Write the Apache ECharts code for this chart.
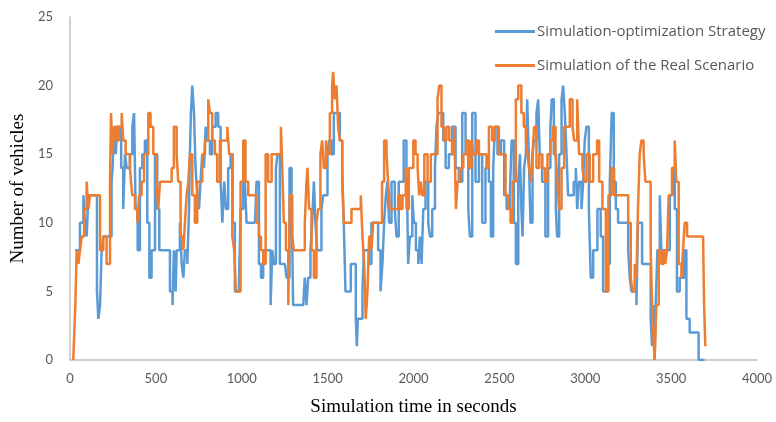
<!DOCTYPE html>
<html>
<head>
<meta charset="utf-8">
<script src="https://cdn.jsdelivr.net/npm/echarts@6/dist/echarts.min.js"></script>
<style>
html,body{margin:0;padding:0;background:#fff;}
#chart{width:776px;height:422px;}
</style>
</head>
<body>
<div id="chart"></div>
<script>
// ---- data (time in seconds, number of vehicles) ----
const seriesNames = ['Simulation-optimization Strategy', 'Simulation of the Real Scenario'];
const xTicks = [0, 500, 1000, 1500, 2000, 2500, 3000, 3500, 4000];
const yTicks = [0, 5, 10, 15, 20, 25];

const optTime = [30,58,78,87,97,107,157,165,175,184,194,242,248,256,266,276,298,310,320,330,349,363,373,382,394,407,421,436,450,462,475,495,508,520,562,582,597,605,615,621,640,650,660,669,683,693,698,704,712,722,731,741,751,760,770,780,790,799,815,828,848,863,877,887,898,908,921,935,947,960,983,993,1009,1018,1028,1077,1086,1100,1112,1125,1154,1168,1178,1187,1199,1208,1222,1251,1261,1278,1290,1299,1358,1367,1377,1387,1400,1410,1420,1429,1439,1464,1474,1499,1509,1523,1536,1571,1585,1594,1604,1635,1664,1670,1676,1703,1711,1740,1755,1794,1808,1819,1829,1839,1848,1858,1872,1891,1901,1914,1943,1959,1964,1969,1979,1993,2002,2014,2028,2037,2047,2057,2070,2086,2096,2109,2125,2134,2144,2173,2187,2206,2225,2245,2264,2284,2303,2319,2328,2342,2361,2381,2400,2419,2439,2451,2464,2474,2489,2509,2528,2542,2561,2571,2584,2596,2610,2620,2628,2635,2644,2654,2662,2671,2681,2693,2702,2716,2726,2735,2749,2768,2784,2797,2805,2817,2829,2836,2848,2862,2871,2881,2891,2900,2933,2945,2953,2964,2978,2988,2997,3007,3021,3032,3046,3071,3090,3104,3129,3143,3154,3166,3178,3191,3250,3259,3269,3298,3307,3331,3381,3389,3399,3404,3410,3420,3434,3443,3492,3507,3521,3534,3550,3575,3589,3608,3660,3695];
const optCount = [8,10,12,10,9,12,5,3,4,8,9,13,14,17,15,17,14,11,15,14,15,17,18,11,8,14,15,16,10,6,8,15,11,8,8,5,4,8,5,8,10,7,6,8,7,11,15,18,20,18,14,12,11,13,15,14,17,16,15,17,18,17,13,10,13,11,14,15,10,5,5,11,16,13,10,10,13,7,6,8,8,4,8,7,14,15,7,7,6,14,12,4,4,6,4,6,8,10,13,10,8,11,12,15,16,15,18,16,13,10,5,7,3,1,3,5,8,7,10,8,5,7,10,12,13,10,13,11,9,13,16,14,11,7,9,12,10,8,7,9,7,11,13,10,9,11,14,17,18,16,14,15,17,14,13,18,15,11,9,18,13,15,10,14,13,9,14,17,15,16,12,11,12,16,10,7,13,15,11,9,14,15,19,15,10,15,16,18,19,15,13,9,14,17,19,15,11,9,15,19,20,18,15,12,13,14,11,13,11,13,16,17,11,6,8,11,9,5,7,13,18,13,11,10,8,6,5,4,10,7,3,1,4,0,4,8,12,8,12,14,11,5,6,8,3,2,0,0];

const realTime = [19,25,31,39,49,58,68,82,97,107,116,175,194,213,233,239,248,258,272,285,301,310,324,349,355,363,378,392,402,417,431,456,469,485,504,514,524,592,605,621,630,644,660,669,679,689,698,712,727,741,770,786,805,815,828,844,857,873,916,927,945,956,966,993,1009,1022,1038,1086,1100,1112,1125,1139,1154,1174,1228,1236,1245,1257,1271,1280,1294,1303,1367,1377,1383,1392,1406,1420,1435,1445,1458,1468,1478,1490,1499,1513,1526,1532,1542,1552,1561,1571,1585,1594,1639,1693,1703,1713,1722,1732,1742,1755,1765,1817,1829,1843,1852,1862,1911,1924,1936,1955,1960,1973,1999,2012,2024,2033,2043,2051,2063,2082,2101,2140,2150,2163,2177,2192,2208,2225,2237,2247,2257,2270,2290,2309,2324,2338,2348,2367,2381,2425,2439,2458,2474,2497,2536,2551,2565,2577,2596,2610,2628,2642,2654,2664,2673,2683,2693,2702,2716,2732,2749,2765,2780,2797,2813,2827,2838,2848,2862,2877,2910,2926,2935,2953,2964,2984,2993,3007,3026,3046,3069,3081,3100,3120,3135,3153,3168,3250,3265,3275,3288,3298,3307,3317,3327,3340,3350,3381,3391,3400,3404,3414,3428,3443,3457,3466,3476,3486,3505,3521,3530,3544,3560,3569,3579,3593,3686,3692,3699];
const realCount = [0,2,4,8,7,8,9,11,13,11,12,8,9,7,13,18,15,17,16,17,18,16,15,14,13,12,11,10,12,13,15,18,17,15,13,11,13,14,17,15,13,9,8,10,12,13,15,12,10,13,15,16,19,18,16,15,13,16,17,15,9,8,5,13,16,13,12,10,9,8,7,15,13,15,17,14,10,8,4,12,9,8,10,13,14,11,8,6,10,11,15,16,14,16,15,18,20,21,19,20,17,16,14,10,11,12,9,7,3,5,9,8,10,13,16,15,13,11,12,11,12,14,11,14,16,15,14,12,13,12,15,13,15,19,20,17,16,17,16,15,17,11,13,14,15,16,14,16,15,16,15,14,17,16,17,15,12,11,10,13,19,20,18,17,16,15,14,13,15,17,14,15,14,13,15,16,17,15,13,11,14,17,19,17,16,19,15,14,13,15,13,15,16,13,11,5,12,14,12,10,6,5,7,6,11,15,16,15,13,8,3,1,0,4,8,7,8,7,8,12,14,16,13,7,6,8,10,9,9,4,1];

function pairs(ts, vs) { return ts.map((t, i) => [t, vs[i]]); }

const chart = echarts.init(document.getElementById('chart'), null, {renderer: 'canvas'});
const labelFont = 'Lato, "Open Sans", sans-serif';
const serifFont = '"Liberation Serif", "Times New Roman", serif';
chart.setOption({
  animation: false,
  backgroundColor: '#ffffff',
  grid: {left: 70, right: 19, top: 17, bottom: 55, containLabel: false},
  legend: {
    orient: 'vertical',
    left: 490,
    top: 17,
    itemWidth: 40,
    itemHeight: 3,
    itemGap: 15,
    icon: 'rect',
    textStyle: {color: '#595959', fontSize: 15, fontFamily: '"Open Sans", sans-serif', lineHeight: 19, padding: [0, 0, 0, -3]},
    data: seriesNames
  },
  xAxis: {
    type: 'value',
    min: xTicks[0],
    max: xTicks[xTicks.length - 1],
    interval: 500,
    name: 'Simulation time in seconds',
    nameLocation: 'middle',
    nameGap: 38,
    nameTextStyle: {color: '#000', fontSize: 19, fontFamily: serifFont},
    axisLine: {show: true, lineStyle: {color: '#BFBFBF', width: 1.5}},
    axisTick: {show: false},
    splitLine: {show: false},
    axisLabel: {color: '#595959', fontSize: 13, fontFamily: labelFont, margin: 12, formatter: v => String(v)}
  },
  yAxis: {
    type: 'value',
    min: yTicks[0],
    max: yTicks[yTicks.length - 1],
    interval: 5,
    name: 'Number of vehicles',
    nameLocation: 'middle',
    nameGap: 40,
    nameTextStyle: {color: '#000', fontSize: 19, fontFamily: serifFont},
    axisLine: {show: true, lineStyle: {color: '#BFBFBF', width: 1.5}},
    axisTick: {show: false},
    splitLine: {show: false},
    axisLabel: {color: '#595959', fontSize: 13, fontFamily: labelFont, margin: 17, formatter: v => String(v)}
  },
  series: [
    {
      name: seriesNames[0],
      type: 'line',
      step: 'end',
      symbol: 'none',
      color: '#5B9BD5',
      lineStyle: {color: '#5B9BD5', width: 2.5},
      data: pairs(optTime, optCount)
    },
    {
      name: seriesNames[1],
      type: 'line',
      step: 'end',
      symbol: 'none',
      color: '#ED7D31',
      lineStyle: {color: '#ED7D31', width: 2.5},
      data: pairs(realTime, realCount)
    }
  ]
});
</script>
</body>
</html>
